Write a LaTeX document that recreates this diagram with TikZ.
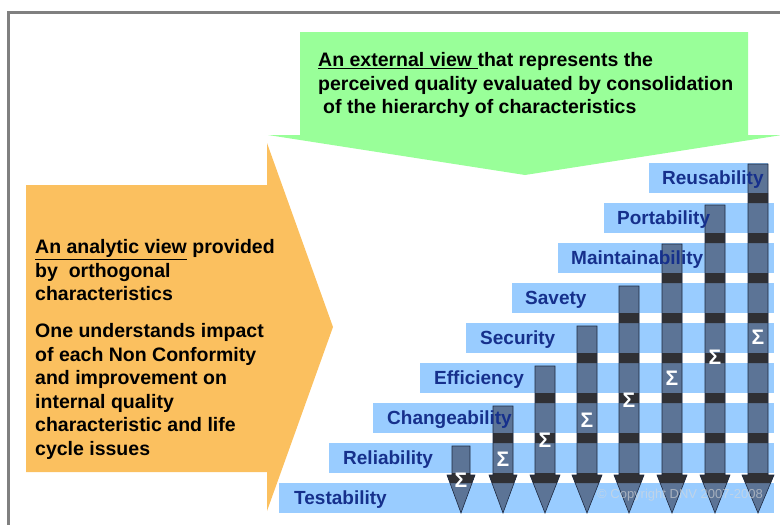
\documentclass[tikz,border=0pt]{standalone}
\usepackage{fontspec}
\setmainfont{Liberation Sans}

\definecolor{ccmint}{RGB}{153,255,153}
\definecolor{ccorange}{RGB}{251,192,95}
\definecolor{ccsky}{RGB}{153,204,255}
\definecolor{ccslate}{RGB}{92,116,150}
\definecolor{ccband}{RGB}{48,48,52}
\definecolor{ccnavy}{RGB}{28,40,64}
\definecolor{ccink}{RGB}{22,48,140}
\definecolor{ccframe}{RGB}{128,128,128}

\begin{document}
\begin{tikzpicture}[x=1pt, y=-1pt,
  stairtext/.style={anchor=base west, inner sep=0pt, text=ccink, font=\fontsize{19}{22}\selectfont\bfseries},
  sumsign/.style={inner sep=0pt, text=white, font=\fontsize{21}{24}\selectfont\bfseries},
  viewtext/.style={anchor=north west, inner sep=0pt, align=left, font=\fontsize{19.5}{23.5}\selectfont\bfseries},
  sumarrow/.style={fill=ccslate, draw=ccnavy, line width=0.6pt, path picture={
    \fill[ccband] (440,473) rectangle (780,483) (440,433) rectangle (780,443)
      (440,393) rectangle (780,403) (440,353) rectangle (780,363)
      (440,313) rectangle (780,323) (440,273) rectangle (780,283)
      (440,233) rectangle (780,243) (440,193) rectangle (780,203);}}]

  \useasboundingbox (0,0) rectangle (780,525);

  % Frame
  \draw[ccframe, line width=3pt] (8.5,525) -- (8.5,12.5) -- (780,12.5);

  % External view
  \fill[ccmint] (300,32) -- (748,32) -- (748,135) -- (782,135) -- (525,175) -- (268,135) -- (300,135) -- cycle;
  \node[viewtext] (external) at (318,52.5) {\underline{An external view\ }that represents the\\perceived quality evaluated by consolidation\\\hspace*{5pt}of the hierarchy of characteristics};

  % Analytic view
  \fill[ccorange] (26,185) -- (267,185) -- (267,143) -- (333,327) -- (267,511) -- (267,472) -- (26,472) -- cycle;
  \node[viewtext] (analytic) at (35,239.5) {\underline{An analytic view} provided\\by\ \ orthogonal\\characteristics\\[13.5pt]One understands impact\\of each Non Conformity\\and improvement on\\internal quality\\characteristic and life\\cycle issues};

  % Stairs
  \fill[ccsky] (279,483) rectangle (774,513);
  \fill[ccsky] (329,443) rectangle (774,473);
  \fill[ccsky] (373,403) rectangle (774,433);
  \fill[ccsky] (420,363) rectangle (774,393);
  \fill[ccsky] (466,323) rectangle (774,353);
  \fill[ccsky] (512,283) rectangle (774,313);
  \fill[ccsky] (558,243) rectangle (774,273);
  \fill[ccsky] (604,203) rectangle (774,233);
  \fill[ccsky] (649,163) rectangle (768,193);

  % Consolidation arrows
  \draw[sumarrow] (452,446) -- (470,446) -- (470,475) -- (475,475) -- (461,513) -- (447,475) -- (452,475) -- cycle;
  \draw[sumarrow] (493,406) -- (513,406) -- (513,475) -- (517,475) -- (503,513) -- (489,475) -- (493,475) -- cycle;
  \draw[sumarrow] (535,366) -- (555,366) -- (555,475) -- (560,475) -- (545,513) -- (530,475) -- (535,475) -- cycle;
  \draw[sumarrow] (577,326) -- (597,326) -- (597,475) -- (602,475) -- (587,513) -- (572,475) -- (577,475) -- cycle;
  \draw[sumarrow] (619,286) -- (639,286) -- (639,475) -- (644,475) -- (629,513) -- (614,475) -- (619,475) -- cycle;
  \draw[sumarrow] (662,244) -- (682,244) -- (682,475) -- (687,475) -- (672,513) -- (657,475) -- (662,475) -- cycle;
  \draw[sumarrow] (705,205) -- (725,205) -- (725,475) -- (730,475) -- (715,513) -- (700,475) -- (705,475) -- cycle;
  \draw[sumarrow] (748,164) -- (768,164) -- (768,475) -- (774,475) -- (758,513) -- (742,475) -- (748,475) -- cycle;

  % Characteristics
  \node[stairtext] (testability) at (294,504) {Testability};
  \node[stairtext] (reliability) at (343,464) {Reliability};
  \node[stairtext] (changeability) at (387,424) {Changeability};
  \node[stairtext] (efficiency) at (434,384) {Efficiency};
  \node[stairtext] (security) at (480,344) {Security};
  \node[stairtext] (savety) at (525,304) {Savety};
  \node[stairtext] (maintainability) at (571,264) {Maintainability};
  \node[stairtext] (portability) at (617,224) {Portability};
  \node[stairtext] (reusability) at (662,184) {Reusability};

  % Sums
  \node[sumsign] (sum1) at (461,480) {Σ};
  \node[sumsign] (sum2) at (503,459) {Σ};
  \node[sumsign] (sum3) at (545,440) {Σ};
  \node[sumsign] (sum4) at (587,420) {Σ};
  \node[sumsign] (sum5) at (629,400) {Σ};
  \node[sumsign] (sum6) at (672,378) {Σ};
  \node[sumsign] (sum7) at (715,357) {Σ};
  \node[sumsign] (sum8) at (758,337) {Σ};

  % Copyright
  \node[anchor=base west, inner sep=0pt, text=white!70!gray, text opacity=0.6, font=\fontsize{13}{15}\selectfont] (copyright) at (597,498) {© Copyright DNV 2007-2008};

\end{tikzpicture}
\end{document}
